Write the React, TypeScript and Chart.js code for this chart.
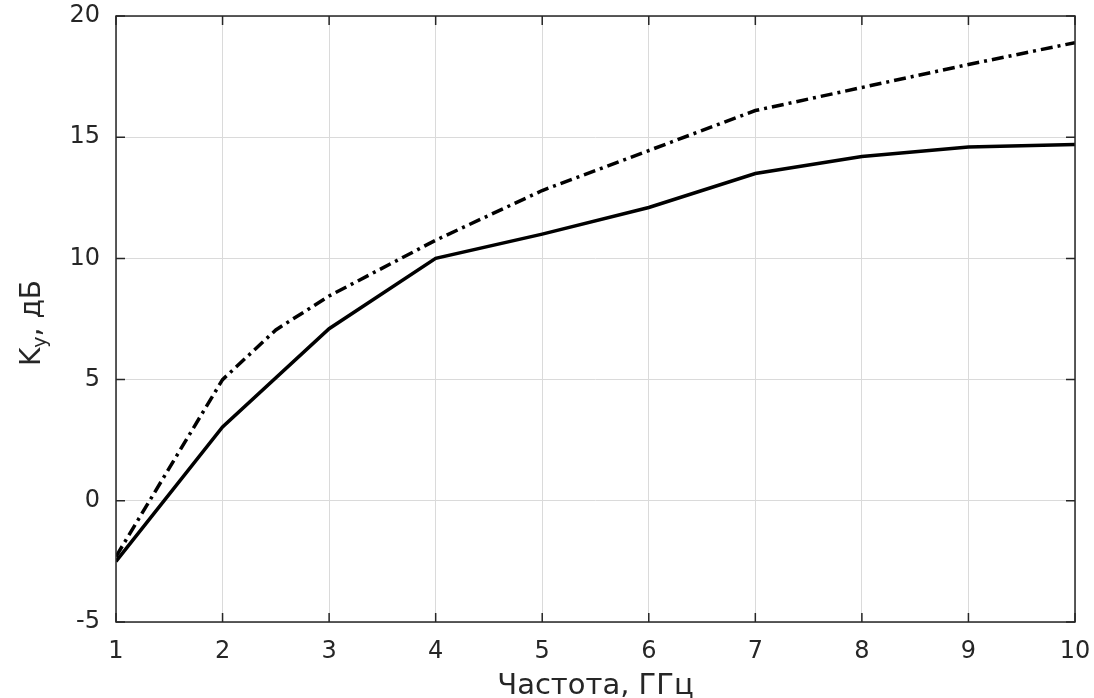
import React, { useEffect, useRef } from "react";
import { Chart, registerables } from "chart.js";

Chart.register(...registerables);

const freqSolid = [1, 2, 3, 4, 5, 6, 7, 8, 9, 10];
const gainSolid = [-2.5, 3.05, 7.1, 10.0, 11.0, 12.1, 13.5, 14.2, 14.6, 14.7];
const freqDashed = [1, 2, 2.5, 3, 4, 5, 6, 7, 8, 9, 10];
const gainDashed = [-2.3, 5.0, 7.05, 8.45, 10.75, 12.8, 14.45, 16.1, 17.05, 18.0, 18.9];
const xTicks = [1, 2, 3, 4, 5, 6, 7, 8, 9, 10];
const yTicks = [-5, 0, 5, 10, 15, 20];
const xTitle = "Частота, ГГц";
const yTitleMain = "K";
const yTitleSub = "y";
const yTitleRest = ", дБ";

const FONT = "'DejaVu Sans', 'Liberation Sans', sans-serif";
const AXIS_COLOR = "#262626";

const framePlugin = {
  id: "frame",
  afterDraw(chart: any) {
    const ctx = chart.ctx as CanvasRenderingContext2D;
    const { left, right, top, bottom } = chart.chartArea;
    const xs = chart.scales.x;
    const ys = chart.scales.y;
    const tl = 9;
    ctx.save();
    ctx.strokeStyle = AXIS_COLOR;
    ctx.lineWidth = 1.5;
    ctx.beginPath();
    xTicks.forEach((v) => {
      const px = xs.getPixelForValue(v);
      ctx.moveTo(px, bottom);
      ctx.lineTo(px, bottom - tl);
      ctx.moveTo(px, top);
      ctx.lineTo(px, top + tl);
    });
    yTicks.forEach((v) => {
      const py = ys.getPixelForValue(v);
      ctx.moveTo(left, py);
      ctx.lineTo(left + tl, py);
      ctx.moveTo(right, py);
      ctx.lineTo(right - tl, py);
    });
    ctx.stroke();
    ctx.strokeRect(left, top, right - left, bottom - top);

    // x title
    ctx.fillStyle = AXIS_COLOR;
    ctx.font = `29px ${FONT}`;
    ctx.textAlign = "center";
    ctx.textBaseline = "alphabetic";
    ctx.fillText(xTitle, (left + right) / 2, 694);

    // y title with subscript
    const mainFont = `28px ${FONT}`;
    const subFont = `19px ${FONT}`;
    ctx.font = mainFont;
    const wK = ctx.measureText(yTitleMain).width;
    const wRest = ctx.measureText(yTitleRest).width;
    ctx.font = subFont;
    const wSub = ctx.measureText(yTitleSub).width;
    const total = wK + wSub + wRest;
    const cy = (top + bottom) / 2 + 4;
    ctx.translate(40, cy);
    ctx.rotate(-Math.PI / 2);
    ctx.textAlign = "left";
    let x0 = -total / 2;
    ctx.font = mainFont;
    ctx.fillText(yTitleMain, x0, 0);
    x0 += wK;
    ctx.font = subFont;
    ctx.fillText(yTitleSub, x0, 6);
    x0 += wSub;
    ctx.font = mainFont;
    ctx.fillText(yTitleRest, x0, 0);
    ctx.restore();
  },
};

export default function App() {
  const ref = useRef<HTMLCanvasElement | null>(null);

  useEffect(() => {
    if (!ref.current) return;
    const chart = new Chart(ref.current, {
      type: "line",
      data: {
        datasets: [
          {
            label: "solid",
            data: freqSolid.map((x, i) => ({ x, y: gainSolid[i] })),
            borderColor: "#000000",
            borderWidth: 3.5,
            pointRadius: 0,
            tension: 0,
            fill: false,
          },
          {
            label: "dashdot",
            data: freqDashed.map((x, i) => ({ x, y: gainDashed[i] })),
            borderColor: "#000000",
            borderWidth: 3.5,
            borderDash: [12, 5, 3, 5],
            pointRadius: 0,
            tension: 0,
            fill: false,
          },
        ],
      },
      options: {
        responsive: false,
        animation: false,
        layout: { padding: { left: 0, right: 19, top: 16, bottom: 0 } },
        plugins: {
          legend: { display: false },
          tooltip: { enabled: false },
        },
        scales: {
          x: {
            type: "linear",
            min: 1,
            max: 10,
            afterFit: (s: any) => {
              s.height = 76;
              s.paddingLeft = 0;
              s.paddingRight = 0;
            },
            afterBuildTicks: (s: any) => {
              s.ticks = xTicks.map((v) => ({ value: v }));
            },
            grid: { color: "#dadada", lineWidth: 1, drawTicks: false },
            border: { display: false },
            ticks: {
              color: AXIS_COLOR,
              font: { family: FONT, size: 24 },
              padding: 15,
              maxRotation: 0,
            },
          },
          y: {
            type: "linear",
            min: -5,
            max: 20,
            afterFit: (s: any) => {
              s.width = 116;
              s.paddingTop = 0;
              s.paddingBottom = 0;
            },
            afterBuildTicks: (s: any) => {
              s.ticks = yTicks.map((v) => ({ value: v }));
            },
            grid: { color: "#dadada", lineWidth: 1, drawTicks: false },
            border: { display: false },
            ticks: {
              color: AXIS_COLOR,
              font: { family: FONT, size: 24 },
              padding: 16,
            },
          },
        },
      },
      plugins: [framePlugin],
    });
    return () => chart.destroy();
  }, []);

  return (
    <div style={{ position: "fixed", left: 0, top: 0, width: 1094, height: 698, background: "#fff" }}>
      <canvas ref={ref} width={1094} height={698} style={{ display: "block" }} />
    </div>
  );
}
